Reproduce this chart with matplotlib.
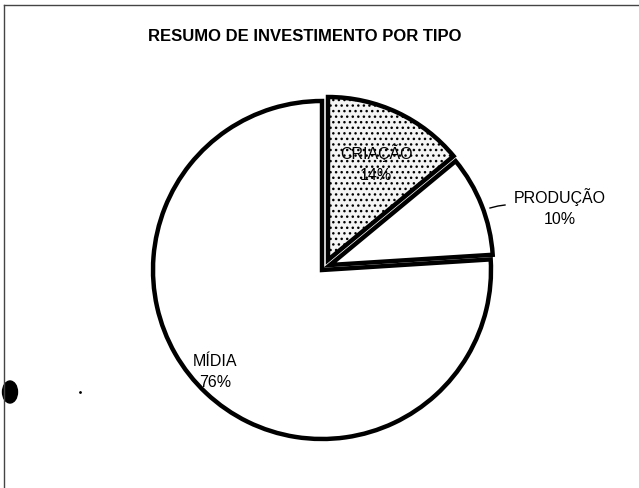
import numpy as np
import matplotlib
matplotlib.use("Agg")
import matplotlib.pyplot as plt
from matplotlib.patches import Ellipse

plt.rcParams['font.family'] = ['Liberation Sans', 'DejaVu Sans']
plt.rcParams['hatch.color'] = '#8a8a8a'
plt.rcParams['hatch.linewidth'] = 1.0

titulo = 'RESUMO DE INVESTIMENTO POR TIPO'
tipos = ['CRIAÇÃO', 'PRODUÇÃO', 'MÍDIA']
valores = [14, 10, 76]

W, H = 639, 489
fig = plt.figure(figsize=(W / 100, H / 100), dpi=100)
ax = fig.add_axes([0, 0, 1, 1])

cx, cy, r = 322, H - 271, 169
wedges, _ = ax.pie(valores, startangle=90, counterclock=False,
                   radius=r, center=(cx, cy),
                   colors=['white', 'white', 'white'],
                   wedgeprops=dict(edgecolor='black', linewidth=3.2))
ax.set_aspect('equal')
ax.set_xlim(0, W)
ax.set_ylim(0, H)
ax.axis('off')

# pull the two small slices out (offset as in the original, not purely radial)
desloc = {0: (6, 10), 1: (8, 5)}
for i, (dx, dy) in desloc.items():
    wedges[i].set_center((cx + dx, cy + dy))
    wedges[i].set_radius(r - 6)

# speckled fill on the first slice
wedges[0].set_hatch('...')
wedges[0].set_facecolor('#f4f4f4')

# labels
rotulos = [f'{t}\n{v}%' for t, v in zip(tipos, valores)]
ax.text(376, H - 164, rotulos[0], ha='center', va='center', fontsize=11.5,
        linespacing=1.5)
ax.text(560, H - 208, rotulos[1], ha='center', va='center', fontsize=11.5,
        linespacing=1.5)
ax.plot([490, 498, 505], [H - 209, H - 207, H - 206], color='black', lw=1)
ax.text(215, H - 372, rotulos[2], ha='center', va='center', fontsize=11.5,
        linespacing=1.5)

ax.text(305, H - 37, titulo, ha='center', va='center', fontsize=12,
        fontweight='bold')

# page frame from the scan
ax.plot([4, W], [H - 6, H - 6], color='#444444', lw=1)
ax.plot([4, 4], [0, H - 6], color='#444444', lw=1)
ax.add_patch(Ellipse((10, H - 393), 15, 22, color='black'))
ax.plot([80], [H - 393], marker='.', color='black', ms=2)

fig.savefig('out.png', dpi=100)
